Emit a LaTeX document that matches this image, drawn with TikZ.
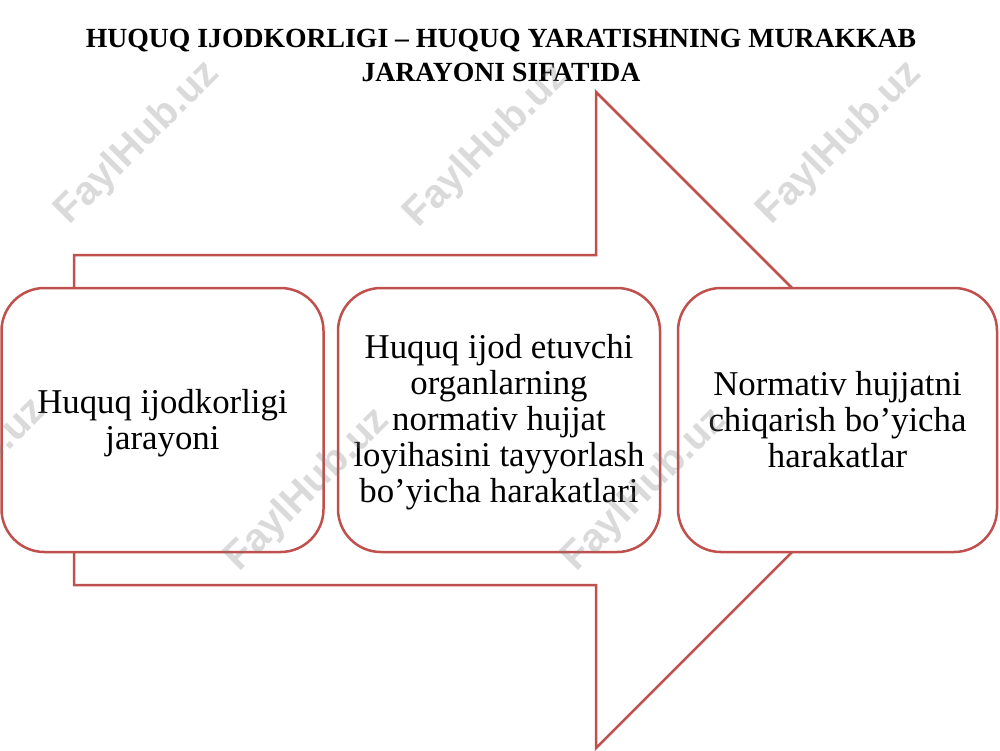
\documentclass[tikz,border=0pt]{standalone}
\usepackage{fontspec}
\setmainfont{Liberation Serif}
\newfontfamily\wmfont{Liberation Sans}
\definecolor{boxred}{HTML}{C0504D}
\definecolor{wmgray}{RGB}{120,120,120}
\tikzset{
  outline/.style={draw=boxred, line width=2.5pt, line join=miter},
  stagebox/.style={draw=boxred, line width=2.5pt, fill=white, rounded corners=43pt,
    minimum height=264pt, inner sep=0pt},
  stagetext/.style={align=center, inner sep=0pt, font=\fontsize{34.8}{36}\selectfont},
  titletext/.style={align=center, font=\fontsize{27.7}{34}\selectfont\bfseries},
  watermark/.style={text=wmgray, text opacity=0.27, rotate=45, font=\fontsize{40}{42}\selectfont\wmfont\bfseries, inner sep=0pt}
}
\begin{document}
\begin{tikzpicture}[x=1pt,y=-1pt]
\useasboundingbox (0,0) rectangle (1000,750);
\fill[white] (0,0) rectangle (1000,750);
% title
\node[titletext] (title) at (501,55) {HUQUQ IJODKORLIGI -- HUQUQ YARATISHNING MURAKKAB\\JARAYONI SIFATIDA};
% big arrow
\draw[outline] (74,255) -- (596,255) -- (596,92) -- (924,420) -- (596,748) -- (596,585) -- (74,585) -- cycle;
% stage boxes
\node[stagebox, minimum width=322pt] (b1) at (162.5,420) {};
\node[stagebox, minimum width=322pt] (b2) at (499,420) {};
\node[stagebox, minimum width=319pt] (b3) at (837.5,420) {};
\node[stagetext] (t1) at ([yshift=-3pt]b1.center) {Huquq ijodkorligi\\jarayoni};
\node[stagetext] (t2) at ([yshift=-2pt]b2.center) {Huquq ijod etuvchi\\organlarning\\normativ hujjat\\loyihasini tayyorlash\\bo’yicha harakatlari};
\node[stagetext] (t3) at ([yshift=0pt]b3.center) {Normativ hujjatni\\chiqarish bo’yicha\\harakatlar};
% watermarks
\node[watermark] (w1) at (138,143) {FaylHub.uz};
\node[watermark] (w2) at (487,146) {FaylHub.uz};
\node[watermark] (w3) at (840,143) {FaylHub.uz};
\node[watermark] (w4) at (-35,480) {FaylHub.uz};
\node[watermark] (w5) at (308,490) {FaylHub.uz};
\node[watermark] (w6) at (645,490) {FaylHub.uz};
\end{tikzpicture}
\end{document}
